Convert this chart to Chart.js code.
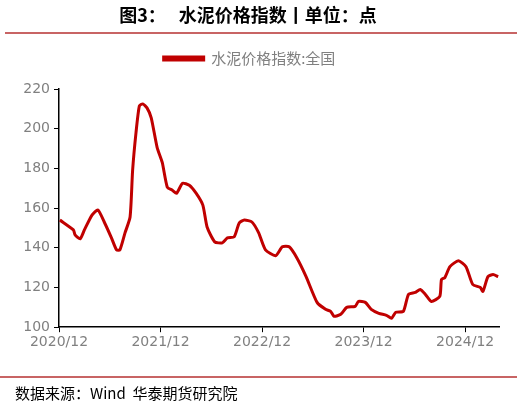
<!DOCTYPE html>
<html>
<head>
<meta charset="utf-8">
<script src="https://cdn.jsdelivr.net/npm/chart.js@4"></script>
<style>
  body { margin: 0; background: #fff; }
  canvas { display: block; }
</style>
</head>
<body>
<canvas id="c" width="522" height="406"></canvas>
<script>
// months since 2020/12
const months = [0.1, 1.7, 1.9, 2.5, 3.0, 3.9, 4.6, 5.4, 6.2, 6.8, 7.2, 7.8, 8.4, 8.7, 9.1, 9.5, 9.9, 10.4, 10.9, 11.6,
  12.2, 12.8, 13.4, 13.9, 14.6, 15.4, 16.2, 17.0, 17.5, 18.4, 19.3, 19.9, 20.7, 21.3, 21.9, 22.8, 23.6, 24.4, 25.6, 26.4,
  27.2, 28.1, 29.2, 30.5, 31.5, 32.1, 32.5, 33.3, 34.0, 35.0, 35.4, 36.2, 36.9, 37.8, 38.7, 39.3, 39.8, 40.7, 41.3, 42.1,
  42.7, 43.3, 44.0, 45.0, 45.2, 45.6, 46.2, 47.2, 48.1, 48.9, 49.8, 50.1, 50.7, 51.3, 51.9];
const cementIndex = [154, 149, 146.5, 144.5, 149, 156.5, 159, 152.5, 145, 139, 139, 147.5, 155.5, 179, 198, 211.5, 212.5, 210.5, 205.5, 190.5,
  183, 170.5, 169, 167.5, 172.5, 171.5, 167.5, 161.5, 150.5, 143, 142.5, 145, 145.5, 152.5, 154, 153, 147.5, 139, 136, 140.5,
  140.5, 135, 125.5, 112.5, 109, 108, 105.5, 106.5, 110, 110.5, 113, 112.5, 109, 107, 106, 104.5, 107.5, 108, 116.5, 117.5,
  119, 116.5, 113, 115.5, 124, 125, 130.5, 133.5, 130.5, 121.5, 120, 118, 125.5, 126.5, 125.5];
const xTickLabels = { 0: "2020/12", 12: "2021/12", 24: "2022/12", 36: "2023/12", 48: "2024/12" };
const seriesName = "水泥价格指数:全国";

const FONT = "'Noto Sans CJK SC', 'Liberation Sans', sans-serif";
const TICKFONT = "'DejaVu Sans', 'Liberation Sans', sans-serif";

const frame = {
    id: "frame",
    afterDraw(chart) {
        const ctx = chart.ctx;
        ctx.save();
        ctx.fillStyle = "#000";
        ctx.font = "bold 18px " + FONT;
        ctx.textAlign = "center";
        ctx.textBaseline = "middle";
        ctx.fillText("图3：　 水泥价格指数丨单位：点", 248, 15);
        ctx.strokeStyle = "#c86464";
        ctx.lineWidth = 2;
        ctx.beginPath(); ctx.moveTo(5, 33); ctx.lineTo(517, 33); ctx.stroke();
        ctx.beginPath(); ctx.moveTo(0, 377); ctx.lineTo(517, 377); ctx.stroke();
        ctx.font = "15px " + FONT;
        ctx.textAlign = "left";
        ctx.fillText("数据来源：Wind  华泰期货研究院", 15, 393);
        ctx.restore();
    }
};

new Chart(document.getElementById("c"), {
    type: "line",
    data: {
        datasets: [{
            label: seriesName,
            data: months.map((m, i) => ({ x: m, y: cementIndex[i] })),
            borderColor: "#c00000",
            backgroundColor: "#c00000",
            borderWidth: 3,
            pointRadius: 0,
            tension: 0.2
        }]
    },
    options: {
        responsive: false,
        animation: false,
        layout: { padding: { top: 29, bottom: 53, left: 0, right: 23 } },
        plugins: {
            legend: {
                labels: { boxWidth: 40, boxHeight: 3, color: "#808080", font: { size: 15, family: FONT }, padding: 22 },
                afterFit() {}
            },
            tooltip: { enabled: false }
        },
        scales: {
            x: {
                type: "linear", min: 0, max: 52,
                afterBuildTicks(axis) { axis.ticks = [0, 12, 24, 36, 48].map(v => ({ value: v })); },
                ticks: { callback: v => xTickLabels[v], color: "#808080", font: { size: 14, family: TICKFONT }, maxRotation: 0, padding: 2 },
                grid: { drawOnChartArea: false, color: "#000", tickLength: 5 },
                border: { color: "#000", width: 1.5 }
            },
            y: {
                min: 100, max: 220,
                afterFit(axis) { axis.width = 59; },
                ticks: { stepSize: 20, color: "#808080", font: { size: 14, family: TICKFONT }, padding: 4 },
                grid: { drawOnChartArea: false, color: "#000", tickLength: 5 },
                border: { color: "#000", width: 1.5 }
            }
        }
    },
    plugins: [frame, {
        id: "legendGap",
        beforeInit(chart) {
            const fit = chart.legend.fit;
            chart.legend.fit = function () { fit.call(this); this.height += 13; };
        }
    }]
});
</script>
</body>
</html>
